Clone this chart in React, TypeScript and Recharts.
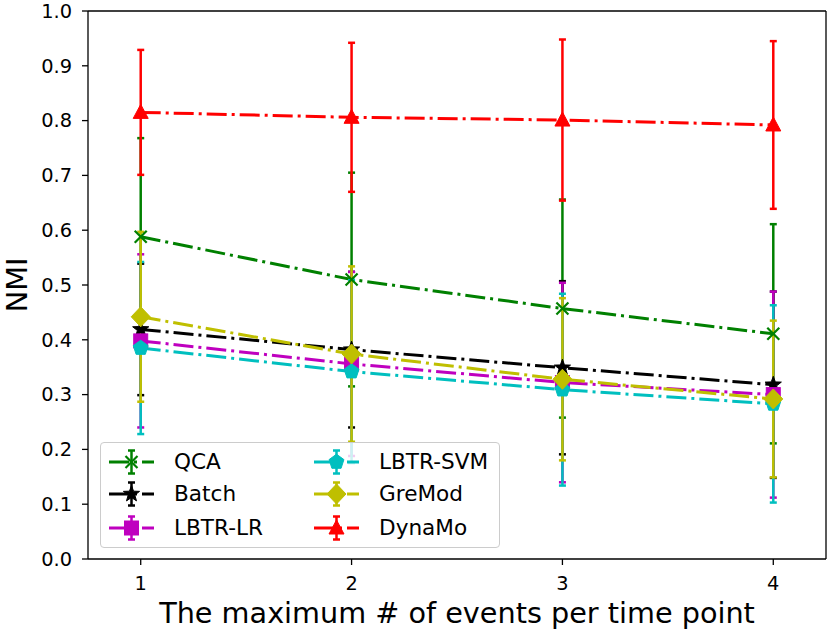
import React from 'react';
import { ComposedChart, Line, XAxis, YAxis, ErrorBar, ReferenceLine } from 'recharts';

const categories = [1, 2, 3, 4];
const xTicks = [1, 2, 3, 4];
const yTicks = [0, 0.1, 0.2, 0.3, 0.4, 0.5, 0.6, 0.7, 0.8, 0.9, 1.0];

const qca = [0.588, 0.51, 0.457, 0.411];
const qcaErr = [0.18, 0.195, 0.199, 0.2];
const batch = [0.419, 0.382, 0.349, 0.318];
const batchErr = [0.12, 0.142, 0.158, 0.17];
const lbtrLr = [0.398, 0.356, 0.322, 0.3];
const lbtrLrErr = [0.158, 0.168, 0.182, 0.188];
const lbtrSvm = [0.385, 0.342, 0.309, 0.283];
const lbtrSvmErr = [0.157, 0.167, 0.175, 0.18];
const greMod = [0.442, 0.374, 0.328, 0.292];
const greModErr = [0.155, 0.16, 0.148, 0.143];
const dynaMo = [0.815, 0.806, 0.801, 0.792];
const dynaMoErr = [0.114, 0.136, 0.147, 0.153];

const data = categories.map((x, i) => ({
  x,
  qca: qca[i], qcaErr: qcaErr[i],
  batch: batch[i], batchErr: batchErr[i],
  lbtrLr: lbtrLr[i], lbtrLrErr: lbtrLrErr[i],
  lbtrSvm: lbtrSvm[i], lbtrSvmErr: lbtrSvmErr[i],
  greMod: greMod[i], greModErr: greModErr[i],
  dynaMo: dynaMo[i], dynaMoErr: dynaMoErr[i],
}));

type Kind = 'x' | 'star' | 'square' | 'pentagon' | 'diamond' | 'triangle';

const series: { key: string; name: string; color: string; marker: Kind }[] = [
  { key: 'qca', name: 'QCA', color: '#008000', marker: 'x' },
  { key: 'batch', name: 'Batch', color: '#000000', marker: 'star' },
  { key: 'lbtrLr', name: 'LBTR-LR', color: '#bf00bf', marker: 'square' },
  { key: 'lbtrSvm', name: 'LBTR-SVM', color: '#00bfbf', marker: 'pentagon' },
  { key: 'greMod', name: 'GreMod', color: '#bfbf00', marker: 'diamond' },
  { key: 'dynaMo', name: 'DynaMo', color: '#ff0000', marker: 'triangle' },
];

const FONT = '"DejaVu Sans", sans-serif';
const DASH = '20 5 3 5';

function polygon(cx: number, cy: number, n: number, rOuter: number, rInner?: number) {
  const pts: string[] = [];
  const total = rInner ? n * 2 : n;
  for (let i = 0; i < total; i++) {
    const a = (-90 + (i * 360) / total) * (Math.PI / 180);
    const r = rInner && i % 2 === 1 ? rInner : rOuter;
    pts.push(`${cx + r * Math.cos(a)},${cy + r * Math.sin(a)}`);
  }
  return pts.join(' ');
}

function Marker({ kind, cx, cy, color }: { kind: Kind; cx: number; cy: number; color: string }) {
  if (cx == null || cy == null || isNaN(cx) || isNaN(cy)) return null;
  switch (kind) {
    case 'x':
      return (
        <g stroke={color} strokeWidth={2.2}>
          <line x1={cx - 6} y1={cy - 6} x2={cx + 6} y2={cy + 6} />
          <line x1={cx - 6} y1={cy + 6} x2={cx + 6} y2={cy - 6} />
        </g>
      );
    case 'star':
      return <polygon points={polygon(cx, cy, 5, 8.5, 3.5)} fill={color} stroke={color} strokeWidth={1} />;
    case 'square':
      return <rect x={cx - 7} y={cy - 7} width={14} height={14} fill={color} stroke={color} strokeWidth={1} />;
    case 'pentagon':
      return <polygon points={polygon(cx, cy, 5, 7.8)} fill={color} stroke={color} strokeWidth={1} />;
    case 'diamond':
      return (
        <polygon
          points={`${cx},${cy - 10} ${cx + 9.5},${cy} ${cx},${cy + 10} ${cx - 9.5},${cy}`}
          fill={color}
          stroke={color}
          strokeWidth={1}
        />
      );
    case 'triangle':
      return (
        <polygon
          points={`${cx},${cy - 8} ${cx + 7.5},${cy + 6} ${cx - 7.5},${cy + 6}`}
          fill={color}
          stroke={color}
          strokeWidth={1}
        />
      );
  }
  return null;
}

function LegendHandle({ color, marker }: { color: string; marker: Kind }) {
  return (
    <svg width={48} height={30} style={{ display: 'block', overflow: 'visible' }}>
      <line x1={0} y1={15} x2={45} y2={15} stroke={color} strokeWidth={3} strokeDasharray={DASH} />
      <g stroke={color} strokeWidth={2.5}>
        <line x1={22.5} y1={3.5} x2={22.5} y2={26.5} />
        <line x1={19} y1={3.5} x2={26} y2={3.5} />
        <line x1={19} y1={26.5} x2={26} y2={26.5} />
      </g>
      <Marker kind={marker} cx={22.5} cy={15} color={color} />
    </svg>
  );
}

function ChartLegend() {
  const colLeft = [8, 213];
  const rowTop = [4, 36, 70];
  return (
    <div
      style={{
        position: 'absolute',
        left: 100,
        top: 442,
        width: 400,
        height: 106,
        boxSizing: 'border-box',
        border: '1.3px solid #cccccc',
        borderRadius: 4,
        background: 'rgba(255,255,255,0.8)',
        fontFamily: FONT,
        fontSize: 21.6,
        color: '#000',
      }}
    >
      {series.map((s, i) => {
        const col = Math.floor(i / 3);
        const row = i % 3;
        return (
          <div
            key={s.key}
            style={{
              position: 'absolute',
              left: colLeft[col],
              top: rowTop[row],
              height: 30,
              display: 'flex',
              alignItems: 'center',
              whiteSpace: 'nowrap',
            }}
          >
            <LegendHandle color={s.color} marker={s.marker} />
            <span style={{ marginLeft: 17, lineHeight: '30px' }}>{s.name}</span>
          </div>
        );
      })}
    </div>
  );
}

export default function App() {
  return (
    <div style={{ position: 'relative', width: 831, height: 634, background: '#fff' }}>
      <style>{`body{margin:0;}`}</style>
      <ComposedChart width={831} height={634} data={data} margin={{ top: 11, right: 5, left: 0, bottom: 0 }}>
        <XAxis
          type="number"
          dataKey="x"
          domain={[0.75, 4.25]}
          ticks={xTicks}
          allowDataOverflow
          height={75}
          tickSize={6}
          tickMargin={11}
          tick={{ fill: '#000', fontSize: 19.4, fontFamily: FONT }}
          axisLine={{ stroke: '#000', strokeWidth: 1.3 }}
          tickLine={{ stroke: '#000', strokeWidth: 1.3 }}
          label={{
            value: 'The maximum # of events per time point',
            position: 'insideBottom',
            offset: 11,
            fill: '#000',
            fontSize: 28.7,
            fontFamily: FONT,
          }}
        />
        <YAxis
          type="number"
          domain={[0, 1]}
          ticks={yTicks}
          allowDataOverflow
          width={88}
          tickSize={6}
          tickMargin={10}
          tickFormatter={(v: number) => v.toFixed(1)}
          tick={{ fill: '#000', fontSize: 19.4, fontFamily: FONT }}
          axisLine={{ stroke: '#000', strokeWidth: 1.3 }}
          tickLine={{ stroke: '#000', strokeWidth: 1.3 }}
          label={{
            content: () => (
              <text
                x={27}
                y={285}
                transform="rotate(-90 27 285)"
                textAnchor="middle"
                fill="#000"
                fontSize={28.7}
                fontFamily={FONT}
              >
                NMI
              </text>
            ),
          }}
        />
        <ReferenceLine y={1} stroke="#000" strokeWidth={1.3} />
        <ReferenceLine x={4.25} stroke="#000" strokeWidth={1.3} />
        {series.map((s) => (
          <Line
            key={s.key}
            dataKey={s.key}
            name={s.name}
            type="linear"
            stroke={s.color}
            strokeWidth={3}
            strokeDasharray={DASH}
            isAnimationActive={false}
            activeDot={false}
            dot={(p: any) => (
              <Marker key={`${s.key}-${p.index}`} kind={s.marker} cx={p.cx} cy={p.cy} color={s.color} />
            )}
          >
            <ErrorBar dataKey={`${s.key}Err`} direction="y" width={3.5} stroke={s.color} strokeWidth={2.5} isAnimationActive={false} />
          </Line>
        ))}
      </ComposedChart>
      <ChartLegend />
    </div>
  );
}
